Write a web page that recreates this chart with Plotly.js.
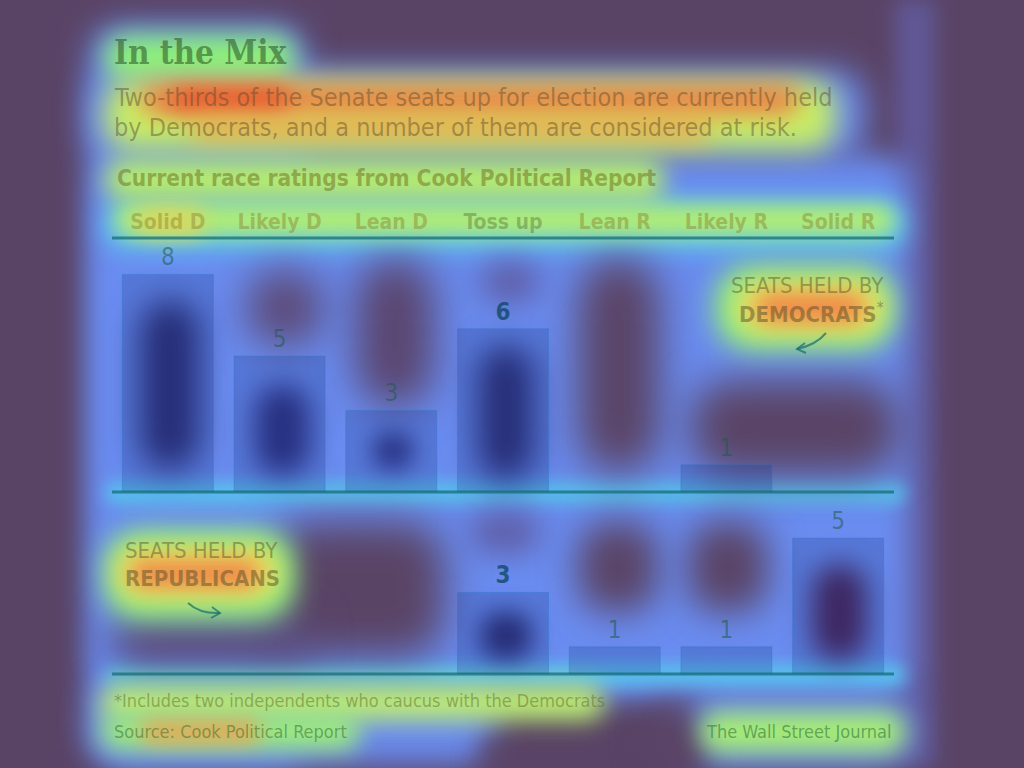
<!DOCTYPE html>
<html><head><meta charset="utf-8">
<script src="https://cdn.plot.ly/plotly-3.0.1.min.js"></script>
<style>
html,body{margin:0;padding:0;background:#5a4466;width:1024px;height:768px;overflow:hidden;}
#glow{position:absolute;left:0;top:0;width:1024px;height:768px;overflow:hidden;z-index:0;}
#glow div{position:absolute;}
#chart{position:absolute;left:0;top:0;width:1024px;height:768px;z-index:1;}
</style></head>
<body>
<div id="glow"></div>
<div id="chart"></div>
<script>
// ---- data ----
const categories = ["Solid D","Likely D","Lean D","Toss up","Lean R","Likely R","Solid R"];
const demSeats = [8,5,3,6,0,1,0];
const repSeats = [0,0,0,3,1,1,5];
const titleText = "In the Mix";
const subtitleLines = ["Two-thirds of the Senate seats up for election are currently held","by Democrats, and a number of them are considered at risk."];
const ratingsText = "Current race ratings from Cook Political Report";
const footnoteText = "*Includes two independents who caucus with the Democrats";
const sourceText = "Source: Cook Political Report";
const creditText = "The Wall Street Journal";

// ---- decorative attention glow (background only) ----
const glows = [
  [895,0,40,768,'#605896',10,0],
  [90,25,215,740,'#6a8cf0',16,30],
  [90,70,775,90,'#6a8cf0',16,30],
  [95,155,815,545,'#6a8cf0',14,30],
  [95,680,400,85,'#6a8cf0',16,30],
  [680,690,230,78,'#6a8cf0',16,30],
  [105,200,800,50,'#5cc8ee',12,20],
  [105,482,800,22,'#58c0ec',8,10],
  [105,664,800,22,'#58c0ec',8,10],
  [245,268,80,80,'#5c4a78',20,40],
  [355,258,80,150,'#5a4670',20,40],
  [578,258,82,215,'#5a4466',20,40],
  [690,380,210,95,'#5a4466',20,40],
  [480,262,60,40,'#5e5aa0',16,20],
  [270,522,175,135,'#5a4466',20,40],
  [110,615,200,50,'#5a4670',20,30],
  [470,512,70,40,'#5e5aa0',16,20],
  [578,522,80,90,'#5a4466',18,30],
  [688,522,80,90,'#5a4466',18,30],
  [480,740,220,34,'#5a4466',14,20],
  [645,705,60,70,'#5a4466',16,30],
  [140,300,60,170,'#2c2c72',16,30],
  [255,385,55,90,'#2e3080',14,25],
  [372,432,42,38,'#2e3080',12,20],
  [478,345,56,135,'#2c2c72',16,30],
  [480,612,52,48,'#2c2c72',12,20],
  [812,565,55,95,'#4a2458',14,25],
  [105,35,190,45,'#8ef07a',12,20],
  [105,80,730,70,'#c8f064',14,25],
  [140,86,660,28,'#f07a44',12,14],
  [170,88,120,22,'#e85a30',10,10],
  [190,118,520,22,'#eaa850',12,12],
  [105,160,560,40,'#b8f06a',12,20],
  [115,205,780,30,'#b4ee70',10,15],
  [135,208,70,28,'#d8d860',10,14],
  [715,265,180,85,'#8ef07a',14,35],
  [735,280,150,55,'#e8e060',12,25],
  [755,293,110,30,'#f08a48',10,15],
  [105,530,190,90,'#8ef07a',14,35],
  [115,545,165,55,'#e8e060',12,25],
  [130,560,130,28,'#f08a48',10,15],
  [100,685,505,35,'#c0f070',12,18],
  [100,715,260,35,'#9ef07a',12,18],
  [140,722,120,20,'#f0a050',10,10],
  [700,712,205,40,'#a8f070',12,18]
];
const glowBox = document.getElementById('glow');
glows.forEach(g => {
  const d = document.createElement('div');
  d.style.left = g[0]+'px'; d.style.top = g[1]+'px';
  d.style.width = g[2]+'px'; d.style.height = g[3]+'px';
  d.style.background = g[4]; d.style.filter = 'blur('+g[5]+'px)';
  d.style.borderRadius = g[6]+'px';
  glowBox.appendChild(d);
});

// ---- chart ----
const W = 1024, H = 768;
const px = x => x / W, py = y => 1 - y / H;
const FONT = "Liberation Sans Narrow, DejaVu Sans Condensed, sans-serif";
const isBold = c => c === "Toss up";
const barStyle = {color:'rgba(20,50,130,0.22)', line:{color:'rgba(40,120,200,0.35)', width:1}};

function barTrace(values, xa, ya) {
  const idx = values.map((v,i) => i).filter(i => values[i] > 0);
  const cats = idx.map(i => categories[i]);
  const vals = idx.map(i => values[i]);
  return {type:'bar', x:cats, y:vals, xaxis:xa, yaxis:ya, width:0.815, marker:barStyle,
    text:vals.map((v,k) => isBold(cats[k]) ? '<b>'+v+'</b>' : String(v)),
    textposition:'outside', cliponaxis:false, hoverinfo:'skip',
    textfont:{family:FONT, size:24, color:cats.map(c => isBold(c) ? 'rgba(10,70,100,0.75)' : 'rgba(30,90,70,0.55)')}};
}
const traces = [barTrace(demSeats,'x','y'), barTrace(repSeats,'x2','y2')];

const tickText = categories.map(c => isBold(c)
  ? '<b><span style="color:rgba(60,70,20,0.7)">'+c+'</span></b>'
  : '<b>'+c+'</b>');

const lineCol = 'rgba(20,110,120,0.75)';
const arrowCol = 'rgba(20,110,110,0.7)';
const P = (x,y) => px(x)+','+py(y);
const layout = {
  width:W, height:H, margin:{l:0,r:0,t:0,b:0},
  paper_bgcolor:'rgba(0,0,0,0)', plot_bgcolor:'rgba(0,0,0,0)',
  showlegend:false, bargap:0,
  xaxis:{domain:[px(112),px(894)], anchor:'y', side:'top', type:'category', range:[-0.5,6.5],
    categoryorder:'array', categoryarray:categories,
    tickvals:categories, ticktext:tickText, showgrid:false, zeroline:false, showline:false, ticks:'',
    tickfont:{family:FONT, size:21, color:'rgba(140,130,40,0.45)'}, ticklabelstandoff:4},
  yaxis:{domain:[py(492),py(238)], range:[0,254/27.2], visible:false, fixedrange:true},
  xaxis2:{domain:[px(112),px(894)], anchor:'y2', type:'category', range:[-0.5,6.5],
    categoryorder:'array', categoryarray:categories, showticklabels:false, showgrid:false,
    zeroline:false, showline:false, ticks:''},
  yaxis2:{domain:[py(674),py(492)], range:[0,182/27.2], visible:false, fixedrange:true},
  shapes:[
    {type:'line', xref:'x domain', yref:'y domain', x0:0, x1:1, y0:1, y1:1, line:{color:lineCol, width:3}},
    {type:'line', xref:'x domain', yref:'y domain', x0:0, x1:1, y0:0, y1:0, line:{color:lineCol, width:3}},
    {type:'line', xref:'x2 domain', yref:'y2 domain', x0:0, x1:1, y0:0, y1:0, line:{color:lineCol, width:3}},
    {type:'path', xref:'paper', yref:'paper', path:'M'+P(826,333)+' Q'+P(816,345)+' '+P(797,349), line:{color:arrowCol, width:2}},
    {type:'path', xref:'paper', yref:'paper', path:'M'+P(805,343)+' L'+P(797,349)+' L'+P(806,353), line:{color:arrowCol, width:2}},
    {type:'path', xref:'paper', yref:'paper', path:'M'+P(188,603)+' Q'+P(200,614)+' '+P(220,613), line:{color:arrowCol, width:2}},
    {type:'path', xref:'paper', yref:'paper', path:'M'+P(212,607)+' L'+P(220,613)+' L'+P(211,618), line:{color:arrowCol, width:2}}
  ],
  annotations:[
    {xref:'paper', yref:'paper', x:px(112), y:py(53), xanchor:'left', yanchor:'middle', showarrow:false,
     text:'<b>'+titleText+'</b>', font:{family:"DejaVu Serif Condensed, DejaVu Serif, serif", size:33, color:'rgba(40,80,30,0.55)'}},
    {xref:'paper', yref:'paper', x:px(112), y:py(97), xanchor:'left', yanchor:'middle', showarrow:false,
     text:subtitleLines[0], font:{family:FONT, size:25, color:'rgba(90,70,40,0.45)'}},
    {xref:'paper', yref:'paper', x:px(112), y:py(128), xanchor:'left', yanchor:'middle', showarrow:false,
     text:subtitleLines[1], font:{family:FONT, size:25, color:'rgba(90,70,40,0.45)'}},
    {xref:'paper', yref:'paper', x:px(115), y:py(178), xanchor:'left', yanchor:'middle', showarrow:false,
     text:'<b>'+ratingsText+'</b>', font:{family:FONT, size:22.5, color:'rgba(110,110,30,0.5)'}},
    {xref:'paper', yref:'paper', x:px(886), y:py(285), xanchor:'right', yanchor:'middle', showarrow:false,
     text:'SEATS HELD BY', font:{family:FONT, size:22, color:'rgba(90,90,40,0.5)'}},
    {xref:'paper', yref:'paper', x:px(886), y:py(313), xanchor:'right', yanchor:'middle', showarrow:false,
     text:'<b>DEMOCRATS</b><sup>*</sup>', font:{family:FONT, size:22, color:'rgba(90,80,40,0.5)'}},
    {xref:'paper', yref:'paper', x:px(123), y:py(550), xanchor:'left', yanchor:'middle', showarrow:false,
     text:'SEATS HELD BY', font:{family:FONT, size:22, color:'rgba(90,90,40,0.5)'}},
    {xref:'paper', yref:'paper', x:px(123), y:py(578), xanchor:'left', yanchor:'middle', showarrow:false,
     text:'<b>REPUBLICANS</b>', font:{family:FONT, size:22, color:'rgba(90,80,40,0.5)'}},
    {xref:'paper', yref:'paper', x:px(112), y:py(700), xanchor:'left', yanchor:'middle', showarrow:false,
     text:footnoteText, font:{family:FONT, size:18, color:'rgba(100,110,40,0.5)'}},
    {xref:'paper', yref:'paper', x:px(112), y:py(731), xanchor:'left', yanchor:'middle', showarrow:false,
     text:sourceText, font:{family:FONT, size:18, color:'rgba(60,110,50,0.55)'}},
    {xref:'paper', yref:'paper', x:px(893), y:py(731), xanchor:'right', yanchor:'middle', showarrow:false,
     text:creditText, font:{family:FONT, size:18, color:'rgba(40,110,60,0.55)'}}
  ]
};
Plotly.newPlot('chart', traces, layout, {staticPlot:true, displayModeBar:false});
</script>
</body></html>
